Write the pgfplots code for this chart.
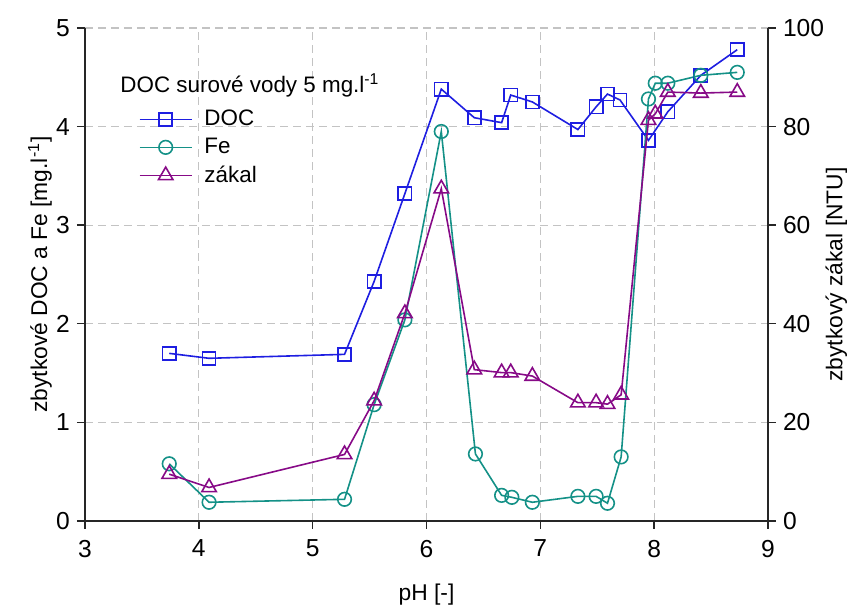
\documentclass[border=0pt]{standalone}
\usepackage{pgfplots}
\pgfplotsset{compat=1.18}
\usepackage{fontspec}
\setmainfont{Liberation Sans}
\definecolor{docblue}{RGB}{30,30,225}
\definecolor{feteal}{RGB}{20,145,135}
\definecolor{zpurple}{RGB}{135,10,135}
\definecolor{gridgray}{RGB}{195,195,195}
\pgfplotsset{
  common/.style={
    scale only axis, width=341.5pt, height=246.5pt,
    xmin=3, xmax=9,
    /pgf/number format/assume math mode=true,
    tick label style={font=\fontsize{12.3}{14}\selectfont},
    label style={font=\fontsize{11.4}{13}\selectfont},
    tick align=outside, major tick length=4pt,
    axis line style={line width=0.7pt, black!85},
    tick style={line width=0.7pt, black!85},
  },
  mk/.style={line width=0.8pt, mark options={solid, fill=white, line width=0.8pt}},
}
\begin{document}
\begin{tikzpicture}
\useasboundingbox (-42.5pt,-44pt) rectangle (391.5pt,260.5pt);
\begin{axis}[common,
  at={(0,0)}, anchor=south west,
  ymin=0, ymax=5,
  axis x line*=bottom, axis y line*=left,
  xtick={3,4,5,6,7,8,9}, ytick={0,1,2,3,4,5},
  xticklabel style={yshift=-2pt},
  grid=major,
  major grid style={gridgray, line width=0.6pt, dash pattern=on 4pt off 2.5pt},
  xlabel={pH [-]},
  ylabel={zbytkové DOC a Fe [mg.l\textsuperscript{-1}]},
  xlabel style={at={(axis description cs:0.5,-0.15)}, anchor=center},
  ylabel style={at={(axis description cs:-0.066,0.5)}, anchor=center, rotate=0},
  legend style={at={(axis cs:3.47,4.21)}, anchor=north west, draw=none, fill=none,
    font=\fontsize{11.2}{13}\selectfont, row sep=0.6pt, inner sep=0pt},
  legend cell align=left,
  legend image code/.code={\draw[mark repeat=2,mark phase=2] plot coordinates {(0pt,0pt) (13pt,0pt) (26pt,0pt)};},
]
\addplot[docblue, mk, mark=square, mark size=3.3pt] coordinates {
(3.74,1.70) (4.09,1.65) (5.28,1.69) (5.54,2.43) (5.81,3.32) (6.13,4.38)
(6.42,4.09) (6.66,4.04) (6.74,4.32) (6.93,4.25) (7.33,3.97) (7.49,4.20)
(7.59,4.33) (7.70,4.27) (7.95,3.86) (8.12,4.15) (8.41,4.52) (8.73,4.78)};
\addlegendentry{\hspace{4pt}DOC}
\addplot[feteal, mk, mark=o, mark size=3.4pt] coordinates {
(3.74,0.58) (4.09,0.19) (5.28,0.22) (5.54,1.18) (5.81,2.04) (6.13,3.95)
(6.43,0.68) (6.66,0.26) (6.75,0.24) (6.93,0.19) (7.33,0.25) (7.49,0.25)
(7.59,0.18) (7.71,0.65) (7.95,4.28) (8.01,4.44) (8.12,4.44) (8.41,4.52) (8.73,4.55)};
\addlegendentry{\hspace{4pt}Fe}
\addlegendimage{zpurple, mk, mark=triangle, mark size=4.2pt}
\addlegendentry{\hspace{4pt}zákal}
\node[anchor=west, font=\fontsize{11.2}{13}\selectfont, inner sep=0pt] at (axis cs:3.308,4.42) {DOC surové vody 5 mg.l\textsuperscript{-1}};
\end{axis}
\begin{axis}[common,
  at={(0,0)}, anchor=south west,
  ymin=0, ymax=100,
  axis x line=none, axis y line*=right,
  ytick={0,20,40,60,80,100},
  ylabel={zbytkový zákal [NTU]},
  ylabel style={at={(axis description cs:1.100,0.5)}, anchor=center, rotate=0},
]
\addplot[zpurple, mk, mark=triangle, mark size=4.2pt] coordinates {
(3.74,9.5) (4.09,6.8) (5.28,13.5) (5.54,24.4) (5.81,42.1) (6.13,67.4)
(6.42,30.7) (6.66,30.1) (6.74,30.1) (6.93,29.4) (7.33,24.0) (7.49,24.0)
(7.59,23.7) (7.71,25.6) (7.95,81.3) (8.01,82.6) (8.12,87.0) (8.41,86.8) (8.73,87.0)};
\end{axis}
\end{tikzpicture}
\end{document}
